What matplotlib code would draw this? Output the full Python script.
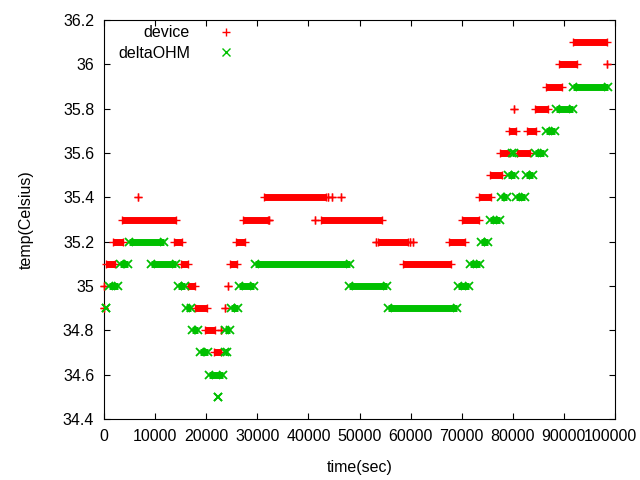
import numpy as np
import matplotlib
matplotlib.use('Agg')
import matplotlib.pyplot as plt
import matplotlib.transforms as mtransforms
from matplotlib.lines import Line2D
from matplotlib.ticker import FuncFormatter, MultipleLocator

plt.rcParams['font.family'] = ['Liberation Sans', 'DejaVu Sans']

# runs of constant reading: temperature, first time, last time (sec)
dev_temp = [36.1, 36.0, 36.0, 35.9, 35.8, 35.8, 35.7, 35.7, 35.6, 35.6, 35.5,
            35.4, 35.4, 35.4, 35.4, 35.4, 35.4,
            35.3, 35.3, 35.3, 35.3, 35.3, 35.3,
            35.2, 35.2, 35.2, 35.2, 35.2, 35.2, 35.2, 35.2,
            35.1, 35.1, 35.1, 35.1,
            35.0, 35.0, 35.0,
            34.9, 34.9, 34.9,
            34.8, 34.8,
            34.7]
dev_t0 = [91800, 89000, 98500, 86500, 80200, 84300, 79200, 82700, 77400, 80900, 75600,
          6700, 31300, 43800, 44600, 46300, 73300,
          3500, 27200, 32200, 41200, 42500, 70100,
          1800, 13700, 25800, 53300, 53700, 59900, 60400, 67500,
          300, 15000, 24600, 58600,
          0, 16500, 24300,
          0, 17800, 23700,
          19800, 22900,
          21600]
dev_t1 = [98500, 92500, 98500, 89700, 80200, 86900, 80700, 84600, 79300, 83300, 77800,
          6700, 43400, 43800, 44600, 46300, 75800,
          14100, 32000, 32200, 41200, 54400, 73400,
          3700, 15200, 27600, 53300, 59500, 59900, 60400, 70700,
          2100, 16500, 26000, 67900,
          0, 17800, 24300,
          0, 20100, 23700,
          21800, 22900,
          22800]

ohm_temp = [35.9, 35.8, 35.7, 35.6, 35.6, 35.5, 35.5, 35.4, 35.4, 35.3,
            35.2, 35.2,
            35.1, 35.1, 35.1, 35.1,
            35.0, 35.0, 35.0, 35.0, 35.0,
            34.9, 34.9, 34.9, 34.9,
            34.8, 34.8,
            34.7, 34.7,
            34.6, 34.5]
ohm_t0 = [91800, 88400, 86400, 79800, 84300, 79000, 82500, 77600, 80600, 75600,
          4900, 73700,
          3100, 9100, 29600, 71700,
          900, 14400, 26400, 48000, 69300,
          300, 16000, 24900, 55500,
          17200, 23700,
          18800, 23600,
          20600, 22400]
ohm_t1 = [98600, 91700, 88200, 80300, 86200, 80400, 84000, 78800, 82300, 77400,
          11700, 75200,
          4600, 14100, 48200, 73500,
          2800, 15900, 29300, 55300, 71500,
          300, 17000, 26200, 69100,
          18400, 24700,
          20300, 24000,
          23200, 22400]

RED = '#ff0000'
GREEN = '#00c000'

fig = plt.figure(figsize=(6.4, 4.8), dpi=100)
ax = fig.add_axes([104/640, 61/480, 511/640, 399/480])


def draw_runs(temp, t0, t1, color, marker, mew):
    temp = np.array(temp)
    t0 = np.array(t0)
    t1 = np.array(t1)
    ax.hlines(temp, t0, t1, colors=color, linewidth=5, capstyle='butt', zorder=2)
    ax.plot(np.concatenate([t0, t1]), np.concatenate([temp, temp]), ls='none',
            marker=marker, color=color, ms=6, mew=mew, zorder=3, clip_on=False)


draw_runs(dev_temp, dev_t0, dev_t1, RED, '+', 1.0)
draw_runs(ohm_temp, ohm_t0, ohm_t1, GREEN, 'x', 1.3)

ax.set_xlim(0, 100000)
ax.set_ylim(34.4, 36.2)
ax.set_xticks(np.arange(0, 100001, 10000))
ax.yaxis.set_major_locator(MultipleLocator(0.2))
ax.yaxis.set_major_formatter(FuncFormatter(lambda v, p: '%g' % round(v, 1)))
ax.xaxis.set_major_formatter(FuncFormatter(lambda v, p: '%d' % v))
ax.tick_params(direction='in', length=4, width=0.8, top=True, right=True,
               labelsize=11.5, pad=7, colors='black')
for s in ax.spines.values():
    s.set_linewidth(0.8)

ax.set_xlabel('time(sec)', fontsize=11.5, labelpad=12)
ax.set_ylabel('temp(Celsius)', fontsize=11.5, labelpad=21)

# keep "100000" inside the canvas, like the original
fig.canvas.draw()
for lab in ax.get_xticklabels():
    if lab.get_text() == '100000':
        lab.set_transform(lab.get_transform() +
                          mtransforms.ScaledTranslation(-3/72, 0, fig.dpi_scale_trans))

handles = [Line2D([], [], ls='none', marker='+', color=RED, ms=6, mew=1.0, label='device'),
           Line2D([], [], ls='none', marker='x', color=GREEN, ms=6, mew=1.0, label='deltaOHM')]
ax.legend(handles=handles, loc='upper right', bbox_to_anchor=(0.2544, 0.987),
          markerfirst=False, frameon=False, fontsize=11.5, handlelength=1.0,
          handletextpad=1.75, borderpad=0, borderaxespad=0, labelspacing=0.35)

fig.savefig('out.png', dpi=100)
